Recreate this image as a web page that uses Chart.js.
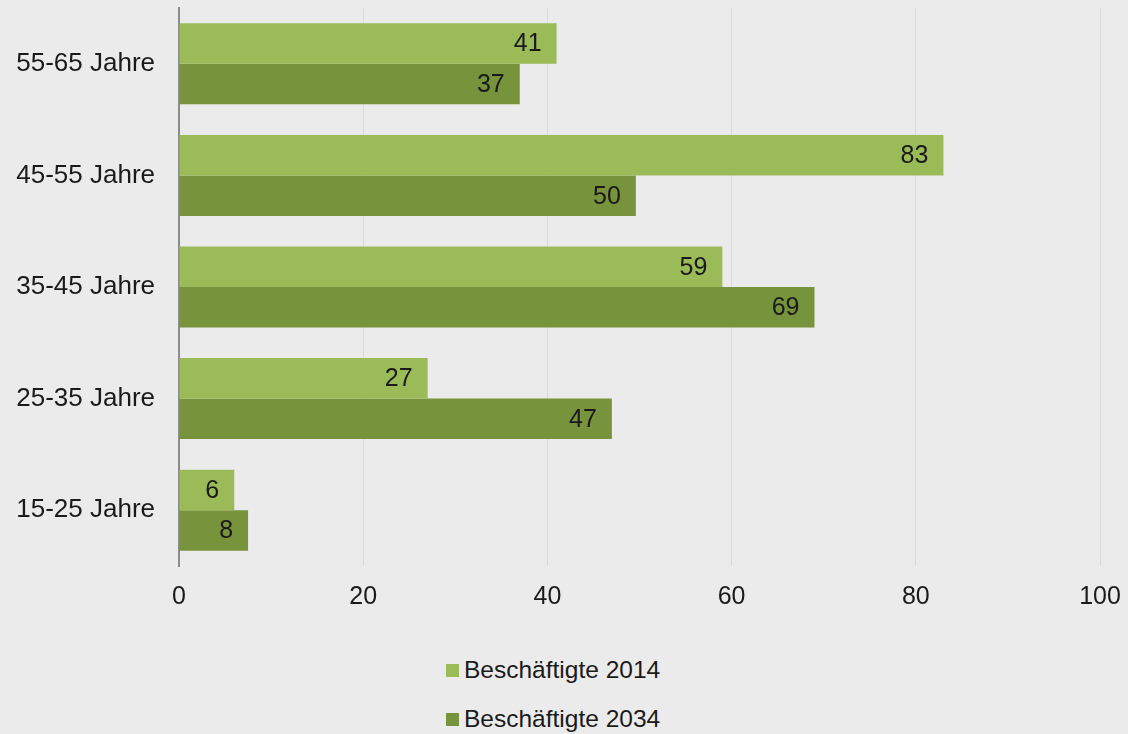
<!DOCTYPE html>
<html lang="de">
<head>
<meta charset="utf-8">
<title>Beschäftigte nach Altersgruppen</title>
<script src="https://cdn.jsdelivr.net/npm/chart.js@4/dist/chart.umd.min.js"></script>
<style>
    html, body {
        margin: 0;
        padding: 0;
        background: #ebebeb;
    }
    #wrap {
        position: relative;
        width: 1128px;
        height: 734px;
        overflow: hidden;
        font-family: 'Liberation Sans', Arial, sans-serif;
    }
    #chart-box {
        position: absolute;
        left: 0;
        top: 0;
        width: 1128px;
        height: 620px;
    }
    #legend {
        position: absolute;
        left: 446px;
        top: 655px;
        margin: 0;
        padding: 0;
        list-style: none;
    }
    #legend li {
        display: flex;
        align-items: center;
        height: 30px;
        margin-bottom: 19px;
        font-size: 24.5px;
        color: #1a1a1a;
        white-space: nowrap;
    }
    #legend .swatch {
        display: inline-block;
        width: 13px;
        height: 13px;
        margin-right: 5px;
    }
</style>
</head>
<body>
<div id="wrap">
    <div id="chart-box"><canvas id="age-chart"></canvas></div>
    <ul id="legend"></ul>
</div>
<script>
const ageGroups = [
    '55-65 Jahre',
    '45-55 Jahre',
    '35-45 Jahre',
    '25-35 Jahre',
    '15-25 Jahre',
];
const seriesNames = ['Beschäftigte 2014', 'Beschäftigte 2034'];
const employed2014 = [41, 83, 59, 27, 6];
const employed2034 = [37, 49.6, 69, 47, 7.5];
const xTicks = [0, 20, 40, 60, 80, 100];

const colors = ['#9bbb59', '#77933c'];
const textColor = '#1a1a1a';
const fontFamily = "'Liberation Sans', Arial, sans-serif";

// draws the value at the inner end of every bar
const barValueLabels = {
    id: 'barValueLabels',
    afterDatasetsDraw(chart) {
        const ctx = chart.ctx;
        ctx.save();
        ctx.font = `25px ${fontFamily}`;
        ctx.fillStyle = textColor;
        ctx.textAlign = 'right';
        ctx.textBaseline = 'middle';
        chart.data.datasets.forEach((dataset, i) => {
            const meta = chart.getDatasetMeta(i);
            meta.data.forEach((bar, j) => {
                ctx.fillText(String(Math.round(dataset.data[j])), bar.x - 15, bar.y + 1);
            });
        });
        ctx.restore();
    },
};

function buildLegend() {
    const list = document.getElementById('legend');
    seriesNames.forEach((name, i) => {
        const item = document.createElement('li');
        const swatch = document.createElement('span');
        swatch.className = 'swatch';
        swatch.style.background = colors[i];
        item.appendChild(swatch);
        item.appendChild(document.createTextNode(name));
        list.appendChild(item);
    });
}

function buildChart() {
    const ctx = document.getElementById('age-chart').getContext('2d');
    return new Chart(ctx, {
        type: 'bar',
        data: {
            labels: ageGroups,
            datasets: [
                {
                    label: seriesNames[0],
                    data: employed2014,
                    backgroundColor: colors[0],
                    categoryPercentage: 0.726,
                    barPercentage: 1,
                },
                {
                    label: seriesNames[1],
                    data: employed2034,
                    backgroundColor: colors[1],
                    categoryPercentage: 0.726,
                    barPercentage: 1,
                },
            ],
        },
        options: {
            indexAxis: 'y',
            responsive: true,
            maintainAspectRatio: false,
            animation: false,
            layout: {
                padding: {top: 8, right: 28, bottom: 0, left: 0},
            },
            plugins: {
                legend: {display: false},
                tooltip: {enabled: false},
            },
            scales: {
                x: {
                    min: 0,
                    max: 100,
                    afterBuildTicks(scale) {
                        scale.ticks = xTicks.map((value) => ({value}));
                    },
                    afterFit(scale) {
                        scale.height = 54;
                        scale.paddingLeft = 0;
                        scale.paddingRight = 0;
                    },
                    grid: {
                        color: '#d9d9d9',
                        lineWidth: 1,
                        drawTicks: false,
                    },
                    border: {display: false},
                    ticks: {
                        color: textColor,
                        padding: 16,
                        font: {family: fontFamily, size: 25},
                    },
                },
                y: {
                    afterFit(scale) {
                        scale.width = 179;
                        scale.paddingTop = 0;
                        scale.paddingBottom = 0;
                    },
                    grid: {display: false, drawTicks: false},
                    border: {display: true, color: '#8c8c8c', width: 2},
                    ticks: {
                        color: textColor,
                        padding: 24,
                        font: {family: fontFamily, size: 26},
                    },
                },
            },
        },
        plugins: [barValueLabels],
    });
}

function init() {
    buildLegend();
    buildChart();
}

document.addEventListener('DOMContentLoaded', init);
</script>
</body>
</html>
